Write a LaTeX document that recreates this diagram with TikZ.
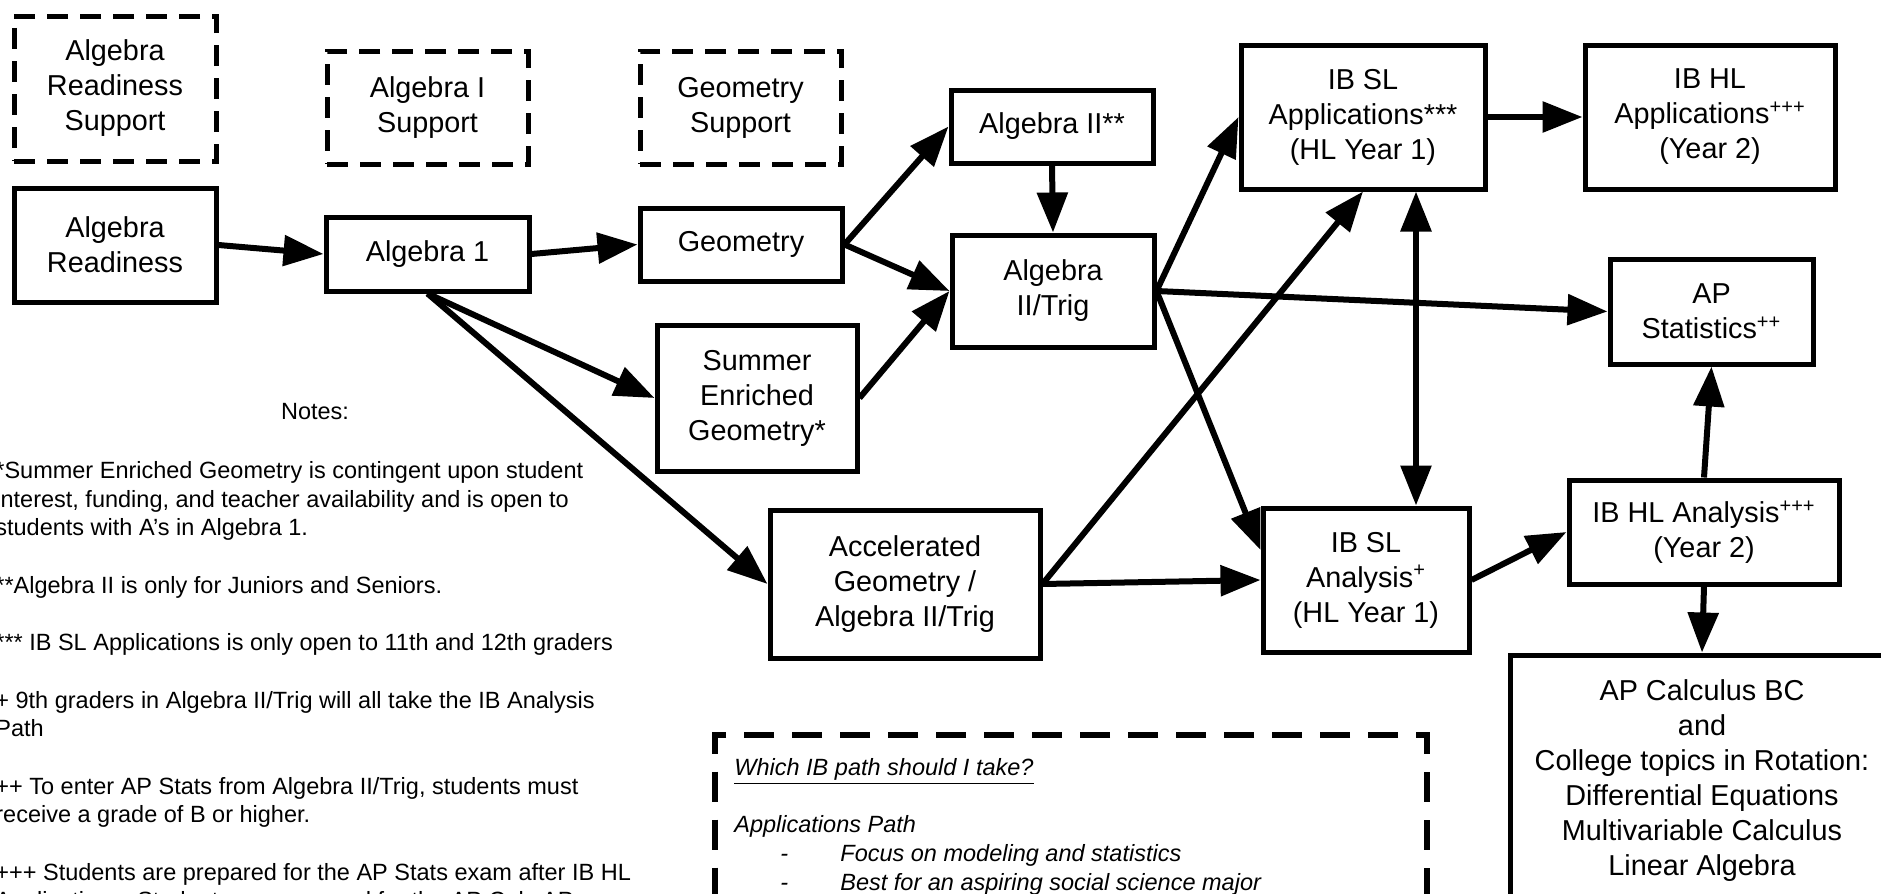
\documentclass[tikz,border=0pt]{standalone}
\usepackage{fontspec}
\setmainfont{Liberation Sans}
\usetikzlibrary{arrows.meta,calc}
\newcommand\bxfont{\fontsize{14.4pt}{17.5pt}\selectfont}
\newcommand\ntfont{\fontsize{11.75pt}{14.35pt}\selectfont}
\begin{document}
\begin{tikzpicture}[x=0.5pt,y=-0.5pt,
  box/.style={draw, line width=2.5pt, rectangle, align=center, inner sep=0pt, fill=white, font=\bxfont},
  dbox/.style={box, dash pattern=on 10.5pt off 6pt},
  arr/.style={line width=3pt, -{Triangle[length=20pt,width=15pt]}},
  darr/.style={line width=3pt, {Triangle[length=20pt,width=15pt]}-{Triangle[length=20pt,width=15pt]}},
  note/.style={inner sep=0pt, font=\ntfont, align=left}
]
\useasboundingbox (0,0) rectangle (1881,894);
\begin{scope}
\clip (0,0) rectangle (1881,894);

% dashed support boxes
\node[dbox, minimum width=101pt, minimum height=72.5pt] (ars) at (115,88.5) {Algebra\\Readiness\\Support};
\node[dbox, minimum width=100.5pt, minimum height=56.5pt] (a1s) at (427.5,107.5) {Algebra I\\Support};
\node[dbox, minimum width=100.5pt, minimum height=56.5pt] (gs) at (740.5,107.5) {Geometry\\Support};

% course boxes
\node[box, minimum width=101pt, minimum height=57pt] (ar) at (115,245) {Algebra\\Readiness};
\node[box, minimum width=101.5pt, minimum height=37pt] (a1) at (427.5,254) {Algebra 1};
\node[box, minimum width=101pt, minimum height=36.5pt] (geo) at (741,244.5) {Geometry};
\node[box, minimum width=100pt, minimum height=73pt] (seg) at (757,398) {Summer\\Enriched\\Geometry*};
\node[box, minimum width=135pt, minimum height=74pt] (acc) at (905,584) {Accelerated\\Geometry /\\Algebra II/Trig};
\node[box, minimum width=101pt, minimum height=36.5pt] (a2) at (1052,126.5) {Algebra II**};
\node[box, minimum width=101pt, minimum height=56pt] (a2t) at (1053,291) {Algebra\\II/Trig};
\node[box, minimum width=122pt, minimum height=72pt] (ibsla) at (1363,117) {IB SL\\Applications***\\(HL Year 1)};
\node[box, minimum width=125pt, minimum height=72pt] (ibhla) at (1710,117) {IB HL\\Applications\textsuperscript{+++}\\(Year 2)};
\node[box, minimum width=101.5pt, minimum height=52.5pt] (aps) at (1711.5,311.5) {AP\\Statistics\textsuperscript{++}};
\node[box, minimum width=103pt, minimum height=72pt] (ibsan) at (1366,580) {IB SL\\Analysis\textsuperscript{+}\\(HL Year 1)};
\node[box, minimum width=135pt, minimum height=52pt] (ibhan) at (1704,532) {IB HL Analysis\textsuperscript{+++}\\(Year 2)};
\node[box, minimum width=192pt, minimum height=126pt] (apc) at (1702,781) {AP Calculus BC\\and\\College topics in Rotation:\\Differential Equations\\Multivariable Calculus\\Linear Algebra};

% connectors
\draw[arr] (ar.east) -- (a1.west);
\draw[arr] (a1.east) -- (geo.west);
\draw[arr] (a1.south) -- (seg.west);
\draw[arr] (a1.south) -- (acc.west);
\draw[arr] (geo.east) -- (a2.west);
\draw[arr] (geo.east) -- (a2t.west);
\draw[arr] (seg.east) -- (a2t.west);
\draw[arr] (a2.south) -- (a2t.north);
\draw[arr] (a2t.east) -- (ibsla.west);
\draw[arr] (a2t.east) -- (aps.west);
\draw[arr] (a2t.east) -- ([yshift=15pt]ibsan.west);
\draw[arr] (acc.east) -- (ibsla.south);
\draw[arr] (acc.east) -- (ibsan.west);
\coordinate (vx) at (1416,0);
\draw[darr] (ibsla.south -| vx) -- (ibsan.north -| vx);
\draw[arr] (ibsla.east) -- (ibhla.west);
\draw[arr] (ibsan.east) -- (ibhan.west);
\draw[arr] (ibhan.north) -- (aps.south);
\draw[arr] (ibhan.south) -- (apc.north);

% notes
\node[note] (noteshead) at (315,412) {Notes:};
\node[note, anchor=north west] (notes) at (-5,461) {*Summer Enriched Geometry is contingent upon student\\
interest, funding, and teacher availability and is open to\\
students with A’s in Algebra 1.\\[14.35pt]
**Algebra II is only for Juniors and Seniors.\\[14.35pt]
*** IB SL Applications is only open to 11th and 12th graders\\[14.35pt]
+ 9th graders in Algebra II/Trig will all take the IB Analysis\\
Path\\[14.35pt]
++ To enter AP Stats from Algebra II/Trig, students must\\
receive a grade of B or higher.\\[14.35pt]
+++ Students are prepared for the AP Stats exam after IB HL\\
Applications. Students are prepared for the AP Calc AP exam};

% IB path box
\node[draw, line width=3pt, dash pattern=on 15pt off 9pt, inner sep=0pt, minimum width=356pt, minimum height=157.5pt] (pathbox) at (1071,892) {};
\node[note, font=\ntfont\itshape, anchor=north west] (pathtext) at (734,758) {\underline{Which IB path should I take?}\\[14.35pt]
Applications Path\\
\makebox[53pt][l]{\hspace*{23pt}-}Focus on modeling and statistics\\
\makebox[53pt][l]{\hspace*{23pt}-}Best for an aspiring social science major};
\end{scope}
\end{tikzpicture}
\end{document}
